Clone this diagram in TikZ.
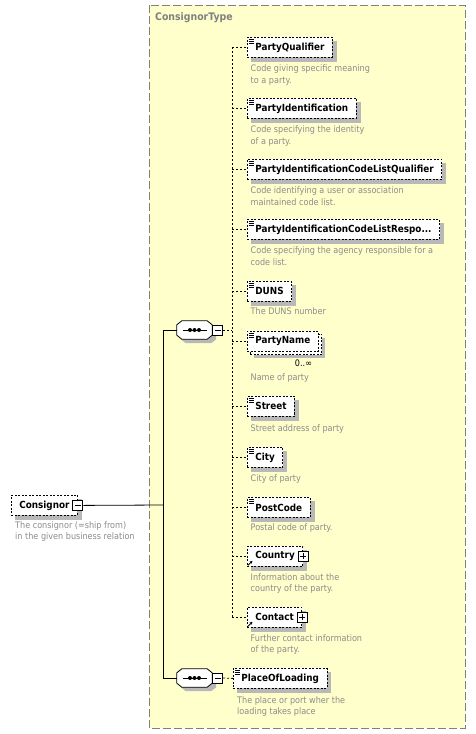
\documentclass[tikz,border=0pt]{standalone}
\usepackage{fontspec}
\setmainfont{DejaVu Sans Condensed}
\usetikzlibrary{arrows.meta}
\definecolor{boxyellow}{HTML}{FFFFCC}
\definecolor{descgray}{HTML}{8C8C8C}
\definecolor{bordergray}{HTML}{808080}
\definecolor{shadgray}{HTML}{B8B8B8}
\pgfdeclarelayer{back}
\pgfdeclarelayer{shadowlayer}
\pgfsetlayers{back,shadowlayer,main}
\newcommand{\octa}[4]{%
  \draw[#4] ([xshift={5pt+#2},yshift={#3}]#1.north west) -- ([xshift={-5pt+#2},yshift={#3}]#1.north east)
    -- ([xshift={#2},yshift={-4pt+#3}]#1.north east) -- ([xshift={#2},yshift={4pt+#3}]#1.south east)
    -- ([xshift={-5pt+#2},yshift={#3}]#1.south east) -- ([xshift={5pt+#2},yshift={#3}]#1.south west)
    -- ([xshift={#2},yshift={4pt+#3}]#1.south west) -- ([xshift={#2},yshift={-4pt+#3}]#1.north west) -- cycle;}
\tikzset{
  elembase/.style={draw, line width=0.8pt, dash pattern=on 2pt off 1.5pt, fill=white,
    minimum height=20pt, inner xsep=8pt, inner ysep=0pt, anchor=north west,
    font=\fontsize{9.8}{11}\selectfont\bfseries},
  elem/.style={elembase},
  simpleicon/.style={path picture={
    \foreach \d in {2,3.8,5.6}
      \draw[line width=0.6pt, solid] ([xshift=1.5pt,yshift=-\d pt]path picture bounding box.north west) -- ++(5pt,0pt);}},
  desc/.style={anchor=north west, inner sep=0pt, align=left, text=descgray,
    font=\fontsize{9}{11.5}\selectfont},
  pmbox/.style={draw, solid, line width=0.9pt, fill=white, minimum size=10pt, inner sep=0pt},
  minus/.style={pmbox, path picture={
    \draw[solid, line width=0.8pt] ([xshift=2pt]path picture bounding box.west) -- ([xshift=-2pt]path picture bounding box.east);}},
  plus/.style={pmbox, path picture={
    \draw[solid, line width=0.8pt] ([xshift=2pt]path picture bounding box.west) -- ([xshift=-2pt]path picture bounding box.east);
    \draw[solid, line width=0.8pt] ([yshift=-2pt]path picture bounding box.north) -- ([yshift=2pt]path picture bounding box.south);}},
  seqbox/.style={rectangle, draw=none, minimum width=35pt, minimum height=18pt, inner sep=0pt},
  conn/.style={line width=0.8pt},
  dconn/.style={line width=0.8pt, dash pattern=on 2pt off 2pt},
  cplxarrow/.style={line width=0.8pt, -{Stealth[length=2.8pt,width=2.8pt]}},
}
\begin{document}
\begin{tikzpicture}[x=1pt,y=-1pt]
\useasboundingbox (0,0) rectangle (476,734);
% background and container
\begin{pgfonlayer}{back}
\fill[white] (0,0) rectangle (476,734);
\draw[bordergray, fill=boxyellow, line width=1pt, dash pattern=on 8pt off 3pt] (149,5) rectangle (465,728);
\end{pgfonlayer}
\node[anchor=west, inner sep=0pt, text=bordergray, font=\fontsize{10.4}{12}\selectfont\bfseries] (ctitle) at (155,18) {ConsignorType};

% root element
\node[elem] (cons) at (11,495) {Consignor\hspace{6pt}};
\node[minus] (consm) at (cons.east) {};
\node[desc] (consd) at (15,521) {The consignor (=ship from)\\in the given business relation};

% compositors
\node[seqbox] (seq1) at (194.5,330) {};
\node[seqbox] (seq2) at (194.5,678) {};
\octa{seq1}{4pt}{-4pt}{fill=shadgray, draw=none}
\octa{seq2}{4pt}{-4pt}{fill=shadgray, draw=none}
\octa{seq1}{0pt}{0pt}{fill=white, draw=black, line width=0.8pt}
\octa{seq2}{0pt}{0pt}{fill=white, draw=black, line width=0.8pt}
\foreach \s in {seq1,seq2}{
  \draw[line width=0.8pt] ([xshift=-12pt]\s.center) -- ([xshift=12pt]\s.center);
  \foreach \dx in {-4.5,0,4.5}
    \fill ([xshift=\dx pt]\s.center) circle (2pt);
}
\node[minus] (seq1m) at ([xshift=5.5pt]seq1.east) {};
\node[minus] (seq2m) at ([xshift=5.5pt]seq2.east) {};

\coordinate (tTop) at (163,330);
\coordinate (tBot) at (163,678);
\coordinate (tJoin) at (163,505);
\draw[conn] (consm.east) -- (tJoin);
\draw[conn] (tTop) -- (tBot);
\draw[conn] (tTop) -- (seq1.west);
\draw[conn] (tBot) -- (seq2.west);

% children
\node[elem, simpleicon] (pq) at (247,37) {PartyQualifier};
\node[desc] (pqd) at (250.5,64.5) {Code giving specific meaning\\to a party.};
\node[elem, simpleicon] (pid) at (247,98) {PartyIdentification};
\node[desc] (pidd) at (250.5,125.5) {Code specifying the identity\\of a party.};
\node[elem, simpleicon] (piq) at (247,159) {PartyIdentificationCodeListQualifier};
\node[desc] (piqd) at (250.5,186.5) {Code identifying a user or association\\maintained code list.};
\node[elem, simpleicon] (pir) at (247,219) {PartyIdentificationCodeListRespo...};
\node[desc] (pird) at (250.5,246.5) {Code specifying the agency responsible for a\\code list.};
\node[elem, simpleicon] (duns) at (247,281) {DUNS};
\node[desc] (dunsd) at (250.5,307.5) {The DUNS number};
\node[elembase, simpleicon] (pname) at (247,331) {PartyName};
\node[inner sep=0pt, font=\fontsize{9}{10}\selectfont] (pnm) at (303.5,363) {0..∞};
\node[desc] (pnamed) at (250.5,373.5) {Name of party};
\node[elem, simpleicon] (street) at (247,396) {Street};
\node[desc] (streetd) at (250.5,424) {Street address of party};
\node[elem, simpleicon] (city) at (247,447) {City};
\node[desc] (cityd) at (250.5,474.5) {City of party};
\node[elem, simpleicon] (post) at (247,497) {PostCode};
\node[desc] (postd) at (250.5,523.5) {Postal code of party.};
\node[elem] (country) at (247,546) {Country\hspace{6pt}};
\node[plus] (countryp) at (country.east) {};
\node[desc] (countryd) at (250.5,573) {Information about the\\country of the party.};
\node[elem] (contact) at (247,607) {Contact\hspace{6pt}};
\node[plus] (contactp) at (contact.east) {};
\node[desc] (contactd) at (250.5,634) {Further contact information\\of the party.};
\draw[cplxarrow] ([xshift=1pt,yshift=1.5pt]country.south west) -- ++(4.5pt,4.5pt);
\draw[cplxarrow] ([xshift=1pt,yshift=1.5pt]contact.south west) -- ++(4.5pt,4.5pt);

\node[elem, simpleicon] (pol) at (233,668) {PlaceOfLoading};
\node[desc] (pold) at (237,696) {The place or port wher the\\loading takes place};

% shadows
\begin{pgfonlayer}{shadowlayer}
\foreach \n in {pq,pid,piq,pir,duns,street,city,post,country,contact}
  \fill[fill=shadgray] ([xshift=4pt,yshift=-4pt]\n.north west) rectangle ([xshift=4pt,yshift=-4pt]\n.south east);
\fill[fill=shadgray] ([xshift=4pt,yshift=-4pt]cons.north west) rectangle ([xshift=4pt,yshift=-4pt]cons.south east);
\fill[fill=shadgray] ([xshift=4pt,yshift=-4pt]pol.north west) rectangle ([xshift=4pt,yshift=-4pt]pol.south east);
\fill[fill=shadgray] ([xshift=7pt,yshift=-7pt]pname.north west) rectangle ([xshift=6pt,yshift=-6pt]pname.south east);
\draw[fill=white, line width=0.8pt, dash pattern=on 2pt off 1.5pt] ([xshift=3pt,yshift=-3pt]pname.north west) rectangle ([xshift=3pt,yshift=-3pt]pname.south east);
\end{pgfonlayer}

% dashed spine
\coordinate (sTop) at (232,47);
\coordinate (sBot) at (232,617);
\coordinate (sMid) at (232,330);
\draw[dconn] (sTop) -- (sBot);
\draw[dconn] (seq1m.east) -- (sMid);
\foreach \n in {pq,pid,piq,pir,duns,pname,street,city,post,country,contact}
  \draw[dconn] (\n.west -| sTop) -- (\n.west);
\draw[dconn] (seq2m.east) -- (pol.west);
\end{tikzpicture}
\end{document}
